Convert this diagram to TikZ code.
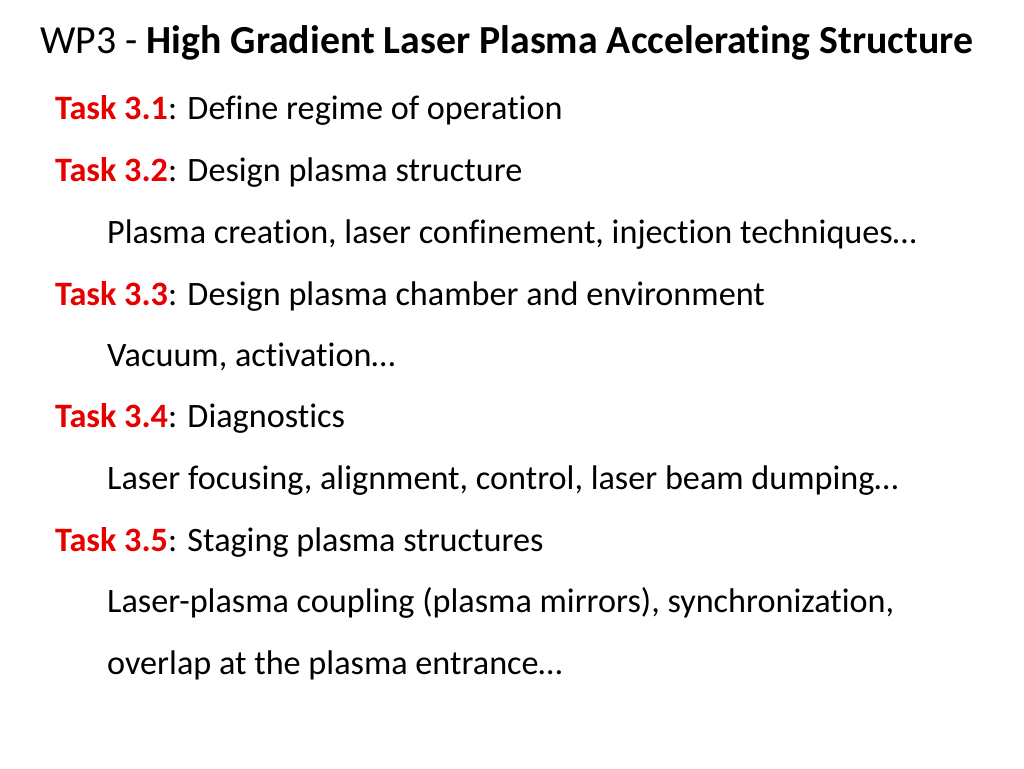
\documentclass[tikz,border=0pt]{standalone}
\usepackage{fontspec}
\setmainfont[Ligatures=NoCommon]{Carlito}
\definecolor{tred}{RGB}{230,0,0}
\begin{document}
\begin{tikzpicture}[x=1pt,y=-1pt,
  line/.style={anchor=base west,inner sep=0pt,font=\fontsize{34.2}{36}\selectfont}]
\useasboundingbox (0,0) rectangle (1024,768);
\node[anchor=base west,inner sep=0pt,font=\fontsize{39.8}{42}\selectfont] (title) at (40,53) {WP3 - \textbf{High Gradient Laser Plasma Accelerating Structure}};
\node[line] (t1) at (55,119) {\textcolor{tred}{\textbf{Task 3.1}}: Define regime of operation};
\node[line] (t2) at (55,181) {\textcolor{tred}{\textbf{Task 3.2}}: Design plasma structure};
\node[line] (s2) at (107,243) {Plasma creation, laser confinement, injection techniques…};
\node[line] (t3) at (55,305) {\textcolor{tred}{\textbf{Task 3.3}}: Design plasma chamber and environment};
\node[line] (s3) at (107,366) {Vacuum, activation…};
\node[line] (t4) at (55,427) {\textcolor{tred}{\textbf{Task 3.4}}: Diagnostics};
\node[line] (s4) at (107,489) {Laser focusing, alignment, control, laser beam dumping…};
\node[line] (t5) at (55,551) {\textcolor{tred}{\textbf{Task 3.5}}: Staging plasma structures};
\node[line] (s5) at (107,612) {Laser-plasma coupling (plasma mirrors), synchronization,};
\node[line] (s6) at (107,674) {overlap at the plasma entrance…};
\end{tikzpicture}
\end{document}
